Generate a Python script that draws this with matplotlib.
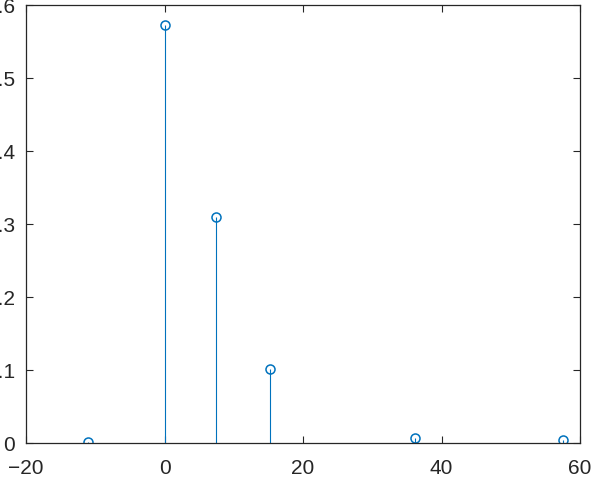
import numpy as np
import matplotlib
matplotlib.use('Agg')
import matplotlib.pyplot as plt

################ Data ################

freq = [-11.0, 0.0, 7.5, 15.25, 36.2, 57.6]
amp = [0.002, 0.573, 0.309, 0.102, 0.0075, 0.004]

xticks = [-20, 0, 20, 40, 60]
yticks = [0, 0.1, 0.2, 0.3, 0.4, 0.5, 0.6]
ytick_labels = ['0', '0.1', '0.2', '0.3', '0.4', '0.5', '0.6']

################ Plot ################

plt.rcParams['font.family'] = ['Liberation Sans', 'DejaVu Sans']
blue = (0, 0.447, 0.741)
axcol = (0.15, 0.15, 0.15)

fig = plt.figure(figsize=(5.98, 4.81), dpi=100)
ax = fig.add_axes([26 / 598, 37 / 481, 554 / 598, 438 / 481])

markerline, stemlines, baseline = ax.stem(freq, amp, basefmt=' ')
plt.setp(stemlines, color=blue, linewidth=0.8)
plt.setp(markerline, color=blue, marker='o', markersize=6.5,
         markerfacecolor='none', markeredgewidth=1.1)

ax.set_xlim(-20, 60)
ax.set_ylim(0, 0.6)
ax.set_xticks(xticks)
ax.set_yticks(yticks)
ax.set_yticklabels(ytick_labels)

ax.tick_params(direction='in', length=5, width=0.8, colors=axcol,
               labelsize=15, top=True, right=True)
ax.tick_params(axis='x', pad=11)
ax.tick_params(axis='y', pad=8)
for s in ax.spines.values():
    s.set_color(axcol)
    s.set_linewidth(0.9)

fig.savefig('out.png', dpi=100)
